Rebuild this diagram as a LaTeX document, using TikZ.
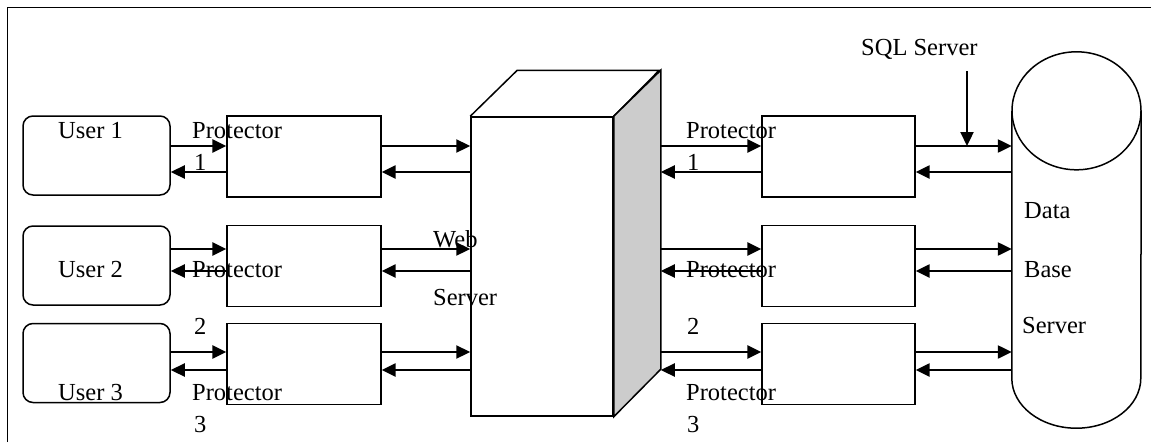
\documentclass[tikz,border=0pt]{standalone}
\usepackage{fontspec}
\setmainfont{Liberation Serif}
\usepackage{tikz}
\usetikzlibrary{arrows.meta, positioning, calc}

\begin{document}
\begin{tikzpicture}[x=1pt, y=-1pt,
  userbox/.style={draw, line width=1.5pt, rounded corners=10pt, minimum width=147pt,
                  minimum height=79pt, inner sep=0pt},
  protbox/.style={draw, line width=1.3pt, minimum width=154pt, minimum height=81pt, inner sep=0pt},
  arr/.style={-{Triangle[length=14pt, width=13pt]}, line width=2.3pt},
  lab/.style={font=\fontsize{24.5}{28}\selectfont, inner sep=0pt, anchor=base west}
]
\useasboundingbox (0,0) rectangle (1151,442);

% --- frame ---
\draw[line width=1.6pt] (7.5,442) -- (7.5,7.5) -- (1151,7.5);

% --- arrow rows ---
\coordinate (r1a) at (0,146);
\coordinate (r1b) at (0,172);
\coordinate (r2a) at (0,249);
\coordinate (r2b) at (0,271);
\coordinate (r3a) at (0,352);
\coordinate (r3b) at (0,370);

% --- users ---
\node[userbox] (u1) at (96.5,155.5) {};
\node[userbox] (u2) at (96.5,265.5) {};
\node[userbox] (u3) at (96.5,363) {};

% --- protectors, client side ---
\node[protbox] (p1) at (304,156.5) {};
\node[protbox] (p2) at (304,266) {};
\node[protbox] (p3) at (304,364) {};

% --- web server box ---
\node[draw, line width=1.5pt, fill=white, minimum width=142pt, minimum height=299pt,
      inner sep=0pt] (web) at (542,266.5) {};
\draw[line width=1.5pt] (web.north west) -- ++(47,-46) -- ++(142,0) -- (web.north east);
\draw[line width=1.5pt, fill=black!20] (web.north east) -- ++(47,-46) -- ++(0,299)
      -- (web.south east) -- cycle;
\coordinate (wback) at ([xshift=47pt]web.east);

% --- protectors, database side ---
\node[protbox, minimum width=153pt] (q1) at (838.5,156.5) {};
\node[protbox, minimum width=153pt] (q2) at (838.5,266) {};
\node[protbox, minimum width=153pt] (q3) at (838.5,364) {};

% --- database cylinder ---
\node[minimum width=129pt, minimum height=376pt, inner sep=0pt] (db) at (1076.5,240) {};
\draw[line width=1.5pt] ([yshift=-59pt]db.north) ellipse [x radius=64.5, y radius=59];
\draw[line width=1.5pt] ([yshift=-59pt]db.north west) -- ([yshift=50pt]db.south west)
      arc[start angle=180, end angle=0, x radius=64.5, y radius=50]
      -- ([yshift=-59pt]db.north east);

% --- arrows ---
\draw[arr] (u1.east |- r1a) -- (p1.west |- r1a);
\draw[arr] (p1.west |- r1b) -- (u1.east |- r1b);
\draw[arr] (u2.east |- r2a) -- (p2.west |- r2a);
\draw[arr] (p2.west |- r2b) -- (u2.east |- r2b);
\draw[arr] (u3.east |- r3a) -- (p3.west |- r3a);
\draw[arr] (p3.west |- r3b) -- (u3.east |- r3b);

\draw[arr] (p1.east |- r1a) -- (web.west |- r1a);
\draw[arr] (web.west |- r1b) -- (p1.east |- r1b);
\draw[arr] (p2.east |- r2a) -- (web.west |- r2a);
\draw[arr] (web.west |- r2b) -- (p2.east |- r2b);
\draw[arr] (p3.east |- r3a) -- (web.west |- r3a);
\draw[arr] (web.west |- r3b) -- (p3.east |- r3b);

\draw[arr] (wback |- r1a) -- (q1.west |- r1a);
\draw[arr] (q1.west |- r1b) -- (wback |- r1b);
\draw[arr] (wback |- r2a) -- (q2.west |- r2a);
\draw[arr] (q2.west |- r2b) -- (wback |- r2b);
\draw[arr] (wback |- r3a) -- (q3.west |- r3a);
\draw[arr] (q3.west |- r3b) -- (wback |- r3b);

\draw[arr] (q1.east |- r1a) -- (db.west |- r1a);
\draw[arr] (db.west |- r1b) -- (q1.east |- r1b);
\draw[arr] (q2.east |- r2a) -- (db.west |- r2a);
\draw[arr] (db.west |- r2b) -- (q2.east |- r2b);
\draw[arr] (q3.east |- r3a) -- (db.west |- r3a);
\draw[arr] (db.west |- r3b) -- (q3.east |- r3b);

% --- labels ---
\node[lab] at (58,138) {User 1};
\node[lab] at (58,277) {User 2};
\node[lab] at (58,400) {User 3};

\node[lab] at (192,138) {Protector};
\node[lab] at (194,170) {1};
\node[lab] at (192,277) {Protector};
\node[lab] at (194,334) {2};
\node[lab] at (192,400) {Protector};
\node[lab] at (194,432) {3};

\node[lab] at (433,247) {Web};
\node[lab] at (433,305) {Server};

\node[lab] at (686,138) {Protector};
\node[lab] at (687,170) {1};
\node[lab] at (686,277) {Protector};
\node[lab] at (687,334) {2};
\node[lab] at (686,400) {Protector};
\node[lab] at (687,432) {3};

\node[lab] (sql) at (861,55) {SQL Server};
\coordinate (sqlhit) at (967,146);
\draw[arr] ([yshift=-12pt]sql.south -| sqlhit) -- (sqlhit);

\node[lab] at (1024,218) {Data};
\node[lab] at (1024,277) {Base};
\node[lab] at (1022,333) {Server};

\end{tikzpicture}
\end{document}
